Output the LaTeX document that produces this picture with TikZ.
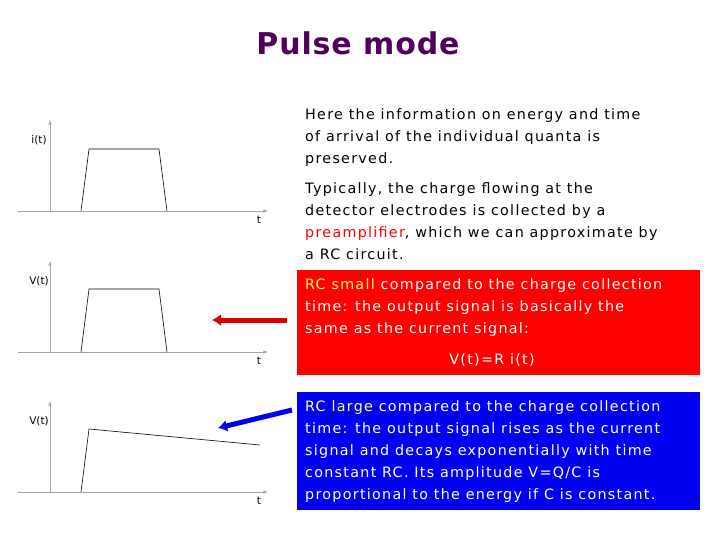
\documentclass[tikz,border=0pt]{standalone}
\usepackage{fontspec}
\usetikzlibrary{arrows.meta}
\setmainfont{DejaVu Sans}
\newfontfamily\txtfont[LetterSpace=9]{DejaVu Sans}
\begin{document}
\begin{tikzpicture}[x=1pt,y=-1pt,
  ax/.style={draw=gray!70,line width=0.6pt,-latex},
  sig/.style={draw=black,line width=0.6pt},
  lab/.style={font=\fontsize{10.5}{11}\selectfont\rmfamily},
  txt/.style={anchor=north west,align=left,inner sep=0pt,font=\txtfont\fontsize{14.3}{22}\selectfont},
  arr/.style={line width=5pt,-{Latex[length=9pt,width=12pt]}}]
\useasboundingbox (0,0) rectangle (720,540);
\definecolor{ttl}{RGB}{80,0,90}
\definecolor{boxred}{RGB}{255,0,0}
\definecolor{boxblue}{RGB}{0,0,240}
\definecolor{hl}{RGB}{255,255,100}
\node (title) at (358,43) {\fontsize{30}{32}\selectfont\bfseries\addfontfeature{LetterSpace=3}\textcolor{ttl}{Pulse mode}};
% graphs
\foreach \n/\oy/\lb in {g1/0/i(t),g2/141/V(t),g3/281/V(t)}{
  \coordinate (\n o) at (50,211+\oy);
  \draw[ax] (18,211+\oy) -- (268,211+\oy);
  \draw[ax] (50,211+\oy) -- (50,120+\oy);
  \node[lab] (\n t) at (259,220+\oy) {t};
  \node[lab] (\n l) at (39,140+\oy) {\lb};
}
\draw[sig] (81,211) -- (89,149) -- (159,149) -- (167,211);
\draw[sig] (81,352) -- (89,289) -- (159,289) -- (167,352);
\draw[sig] (81,492) -- (89,429) -- (260,445);
% text
\node[txt] (t1) at (305,108) {Here the information on energy and time\\of arrival of the individual quanta is\\preserved.};
\node[txt] (t2) at (305,182) {Typically, the charge flowing at the\\detector electrodes is collected by a\\\textcolor{red}{preamplifier}, which we can approximate by\\a RC circuit.};
\fill[boxred] (297,270) rectangle (700,375);
\node[txt,text=white] (t3) at (305,278) {\textcolor{hl}{RC small} compared to the charge collection\\time: the output signal is basically the\\same as the current signal:};
\node[font=\txtfont\fontsize{14.3}{16}\selectfont,text=white] (eq) at (492,360) {V(t)=R i(t)};
\fill[boxblue] (297,392) rectangle (700,510);
\node[txt,text=white] (t4) at (305,400) {\textcolor{hl}{RC large} compared to the charge collection\\time: the output signal rises as the current\\signal and decays exponentially with time\\constant RC. Its amplitude V=Q/C is\\proportional to the energy if C is constant.};
\coordinate (rs) at (287,320);
\coordinate (ra) at (212,320);
\coordinate (bs) at (292,410);
\coordinate (ba) at (218,428);
\draw[arr,draw=boxred!85!black,fill=boxred!85!black] (rs) -- (ra);
\draw[arr,draw=boxblue,fill=boxblue] (bs) -- (ba);
\end{tikzpicture}
\end{document}
